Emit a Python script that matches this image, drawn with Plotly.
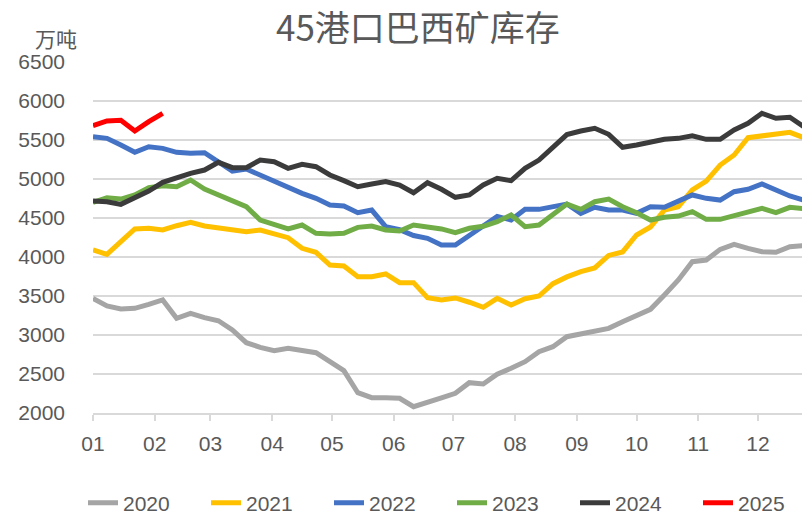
import datetime as dt
import plotly.graph_objects as go

# ---- data (weekly, wan tonnes) ----
years = ["2020", "2021", "2022", "2023", "2024", "2025"]
colors = ["#A5A5A5", "#FFC000", "#4472C4", "#70AD47", "#3B3B3B", "#FF0000"]

s2020 = [3470, 3372, 3333, 3342, 3393, 3449, 3214, 3278, 3222, 3183, 3064, 2901, 2842, 2799,
         2829, 2808, 2773, 2658, 2543, 2260, 2196, 2196, 2188, 2081, 2145, 2195, 2252, 2389,
         2372, 2496, 2573, 2658, 2786, 2850, 2978, 3009, 3042, 3085, 3171, 3244, 3329, 3513,
         3705, 3940, 3961, 4098, 4162, 4111, 4068, 4060, 4132, 4145]
s2021 = [4090, 4034, 4196, 4359, 4368, 4346, 4401, 4445, 4397, 4368, 4346, 4325, 4346, 4295,
         4248, 4111, 4060, 3897, 3884, 3747, 3747, 3782, 3671, 3671, 3478, 3449, 3475, 3420,
         3355, 3470, 3385, 3465, 3500, 3658, 3745, 3812, 3860, 4020, 4065, 4282, 4385, 4602,
         4645, 4859, 4974, 5179, 5308, 5530, 5555, 5564, 5598, 5530]
s2022 = [5542, 5521, 5436, 5342, 5414, 5393, 5342, 5329, 5337, 5222, 5102, 5128, 5051, 4957,
         4880, 4816, 4752, 4666, 4653, 4568, 4602, 4389, 4350, 4275, 4240, 4154, 4154, 4275,
         4410, 4520, 4474, 4611, 4611, 4637, 4679, 4560, 4637, 4602, 4602, 4560, 4645, 4637,
         4709, 4795, 4752, 4730, 4837, 4868, 4936, 4859, 4782, 4730]
s2023 = [4701, 4760, 4743, 4795, 4889, 4914, 4901, 4987, 4872, 4795, 4730, 4645, 4474, 4410,
         4359, 4410, 4304, 4295, 4304, 4380, 4397, 4346, 4333, 4410, 4390, 4360, 4312, 4368,
         4393, 4453, 4538, 4389, 4410, 4545, 4679, 4611, 4709, 4743, 4645, 4568, 4474, 4509,
         4525, 4581, 4483, 4483, 4525, 4568, 4624, 4568, 4637, 4620]
s2024 = [4718, 4709, 4675, 4752, 4846, 4957, 5017, 5073, 5115, 5214, 5145, 5145, 5243, 5222,
         5137, 5188, 5158, 5051, 4979, 4901, 4936, 4966, 4923, 4824, 4953, 4868, 4765, 4795,
         4923, 5009, 4979, 5137, 5243, 5414, 5570, 5615, 5650, 5573, 5406, 5436, 5466, 5509,
         5521, 5555, 5509, 5509, 5628, 5714, 5842, 5778, 5791, 5670]
s2025 = [5683, 5744, 5752, 5615, 5735, 5842]

series = [s2020, s2021, s2022, s2023, s2024, s2025]

# week dates on a common (non-leap) calendar year
base = dt.date(2023, 1, 1)
weeks = [base + dt.timedelta(days=7 * i) for i in range(52)]

TXT = "#595959"
GRID = "#D9D9D9"
NUMFONT = "Liberation Sans"
CJK = "Noto Sans CJK SC"

fig = go.Figure()
for name, col, vals in zip(years, colors, series):
    fig.add_trace(go.Scatter(
        x=weeks[:len(vals)], y=vals, name=name, mode="lines",
        line=dict(color=col, width=5), cliponaxis=True,
    ))

W, H = 802, 516
L, R, T, B = 93, 0, 62, 103
pw, ph = W - L - R, H - T - B

end = dt.datetime(2023, 1, 1) + dt.timedelta(days=356.1)

fig.update_layout(
    width=W, height=H,
    margin=dict(l=L, r=R, t=T, b=B, autoexpand=False),
    paper_bgcolor="white", plot_bgcolor="white",
    showlegend=True,
    legend=dict(orientation="h", x=(83 - L) / pw, xanchor="left",
                y=(H - B - 503) / ph, yanchor="middle",
                entrywidth=78, entrywidthmode="pixels",
                font=dict(family=NUMFONT, size=21, color=TXT),
                bgcolor="rgba(0,0,0,0)"),
    xaxis=dict(type="date", range=[dt.datetime(2023, 1, 1), end], automargin=False,
               tick0="2023-01-01", dtick="M1", tickformat="%m",
               ticks="outside", ticklen=6, tickcolor=GRID, tickwidth=1.5,
               showline=True, linecolor=GRID, linewidth=1.5,
               showgrid=False, zeroline=False, ticklabelstandoff=5,
               tickfont=dict(family=NUMFONT, size=21, color=TXT)),
    yaxis=dict(range=[2000, 6500], dtick=500, tick0=2000, automargin=False,
               showgrid=True, gridcolor=GRID, gridwidth=1.5,
               zeroline=False, showline=False, ticks="",
               ticklabelstandoff=27,
               tickfont=dict(family=NUMFONT, size=21, color=TXT)),
    annotations=[
        dict(text="45港口巴西矿库存", xref="paper", yref="paper",
             x=(418 - L) / pw, y=(H - B - 25) / ph,
             xanchor="center", yanchor="middle", showarrow=False,
             font=dict(family=CJK, size=35, color=TXT)),
        dict(text="万吨", xref="paper", yref="paper",
             x=(56 - L) / pw, y=(H - B - 38) / ph,
             xanchor="center", yanchor="middle", showarrow=False,
             font=dict(family=CJK, size=21, color=TXT)),
    ],
)

fig.write_html("out.html", config={"displayModeBar": False},
               post_script="document.body.style.margin='0';")
